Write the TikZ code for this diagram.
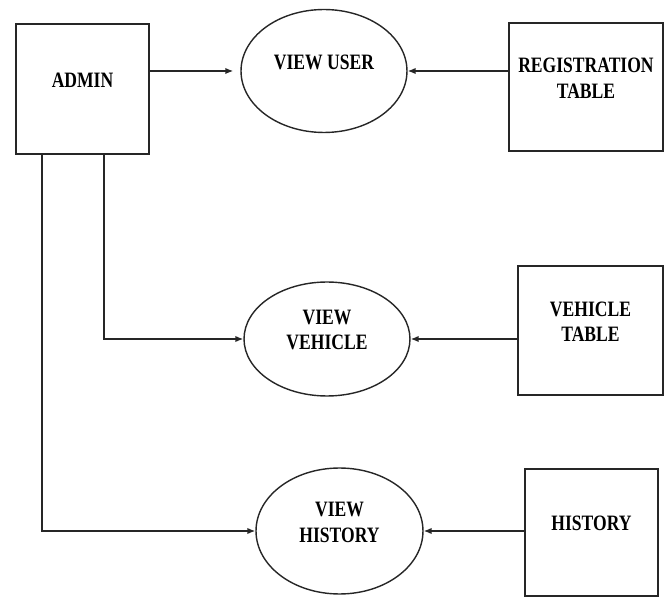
\documentclass[tikz,border=0pt]{standalone}
\usepackage{fontspec}
\setmainfont{Liberation Serif}
\usetikzlibrary{arrows.meta,positioning,calc,shapes.geometric}
\colorlet{cline}{black!85}

\begin{document}
\begin{tikzpicture}[x=0.02cm, y=0.02cm,
  box/.style={draw=cline, line width=1pt, inner sep=0pt},
  proc/.style={draw=cline, ellipse, line width=0.8pt, inner sep=0pt},
  lbl/.style={font=\fontsize{12.5}{14.5}\selectfont\bfseries, align=center, xscale=0.8, yshift=5pt},
  flow/.style={draw=cline, line width=0.8pt, -{Latex[length=4.5pt,width=3.6pt]}}]
\useasboundingbox (0,0) rectangle (670,599);
% stores and actor
\node[box, minimum width=2.66cm, minimum height=2.6cm, label={[lbl]center:ADMIN}] (admin) at (82.5,510) {};
\node[box, minimum width=3.08cm, minimum height=2.56cm, label={[lbl]center:{REGISTRATION\\TABLE}}] (regtab) at (586,512) {};
\node[box, minimum width=2.9cm, minimum height=2.58cm, label={[lbl]center:{VEHICLE\\TABLE}}] (vehtab) at (590.5,268.5) {};
\node[box, minimum width=2.66cm, minimum height=2.54cm, label={[lbl]center:HISTORY}] (histtab) at (591.5,66.5) {};
% processes
\node[proc, minimum width=3.32cm, minimum height=2.46cm, label={[lbl]center:VIEW USER}] (vuser) at (324,528) {};
\node[proc, minimum width=3.32cm, minimum height=2.28cm, label={[lbl]center:{VIEW\\VEHICLE}}] (vveh) at (327,260) {};
\node[proc, minimum width=3.34cm, minimum height=2.52cm, label={[lbl]center:{VIEW\\HISTORY}}] (vhist) at (339.5,68) {};
% flows
\draw[flow] (vuser.west -| admin.east) -- ([xshift=-4pt]vuser.west);
\draw[flow] (vuser.east -| regtab.west) -- (vuser.east);
\draw[flow] ([xshift=0.43cm]admin.south) |- (vveh.west);
\draw[flow] ([xshift=-0.81cm]admin.south) |- (vhist.west);
\draw[flow] (vveh.east -| vehtab.west) -- (vveh.east);
\draw[flow] (vhist.east -| histtab.west) -- (vhist.east);
\end{tikzpicture}
\end{document}
